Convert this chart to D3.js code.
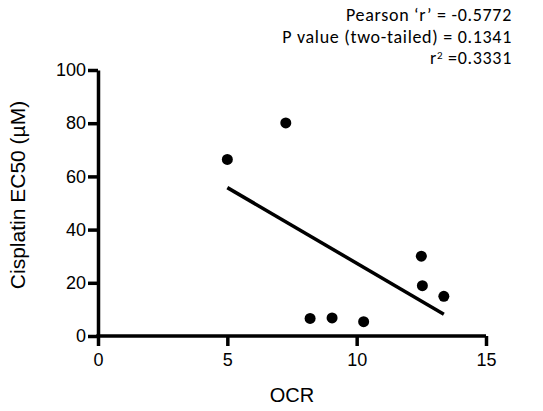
<!DOCTYPE html>
<html><head><meta charset="utf-8">
<script src="https://cdn.jsdelivr.net/npm/d3@7"></script>
<style>body{margin:0;background:#fff}</style>
</head><body>
<svg id="c" width="543" height="411"></svg>
<script>
const ocr   = [5.0, 7.26, 8.2, 9.05, 10.27, 12.5, 12.54, 13.37];
const ec50  = [66.4, 80.1, 6.6, 6.8, 5.4, 30.0, 18.9, 14.9];
const xTicks = [0, 5, 10, 15];
const yTicks = [0, 20, 40, 60, 80, 100];
const statsLines = ["Pearson \u2018r\u2019 = -0.5772", "P value (two-tailed) = 0.1341"];
const r2Value = "0.3331";

const svg = d3.select("#c");
const x = d3.scaleLinear().domain([0, 15]).range([98, 486]);
const y = d3.scaleLinear().domain([0, 100]).range([336, 70]);
const sw = 3.5;
const arial = "'Liberation Sans', Arial, Helvetica, sans-serif";

// regression line (least squares from the data)
const n = ocr.length;
const mx = d3.mean(ocr), my = d3.mean(ec50);
let sxy = 0, sxx = 0;
for (let i = 0; i < n; i++) { sxy += (ocr[i]-mx)*(ec50[i]-my); sxx += (ocr[i]-mx)**2; }
const slope = sxy / sxx, icpt = my - slope*mx;
const x0 = d3.min(ocr), x1 = d3.max(ocr);

const gx = svg.append("g").attr("transform", `translate(0,${y(0)})`)
  .call(d3.axisBottom(x).tickValues(xTicks).tickSize(10).tickSizeOuter(0).tickPadding(7));
const gy = svg.append("g").attr("transform", `translate(${x(0)},0)`)
  .call(d3.axisLeft(y).tickValues(yTicks).tickSize(10).tickSizeOuter(0).tickPadding(2));
[gx, gy].forEach(g => {
  g.attr("font-family", arial).attr("font-size", 18);
  g.selectAll("path,line").attr("stroke", "#000").attr("stroke-width", sw);
  g.selectAll("text").attr("fill", "#000").attr("font-family", arial).attr("font-size", 18);
});
gx.select(".domain").attr("d", `M${x(0)-sw/2},0H${x(15)}`);

svg.append("line")
  .attr("x1", x(x0)).attr("y1", y(icpt + slope*x0))
  .attr("x2", x(x1)).attr("y2", y(icpt + slope*x1))
  .attr("stroke", "#000").attr("stroke-width", 3.5);

svg.selectAll("circle.pt").data(ocr.map((v,i)=>[v, ec50[i]])).join("circle")
  .attr("class","pt").attr("cx", d=>x(d[0])).attr("cy", d=>y(d[1])).attr("r", 5.5).attr("fill", "#000");

svg.append("text").attr("x", 292).attr("y", 401.5).attr("text-anchor","middle")
  .attr("font-family", arial).attr("font-size", 20).text("OCR");
svg.append("text").attr("transform","translate(25,195) rotate(-90)").attr("text-anchor","middle")
  .attr("font-family", arial).attr("font-size", 21).text("Cisplatin EC50 (\u00b5M)");

const fam = "Carlito, Lato, 'Open Sans', sans-serif";
const base = [20.7, 42.7];
statsLines.forEach((t,i)=>{
  svg.append("text").attr("x", 512).attr("y", base[i]).attr("text-anchor","end")
    .attr("font-family", fam).attr("font-size", 18).attr("letter-spacing", 0.7).text(t);
});
const t3 = svg.append("text").attr("x", 512).attr("y", 64).attr("text-anchor","end")
  .attr("font-family", fam).attr("font-size", 18).attr("letter-spacing", 0.7);
t3.append("tspan").text("r");
t3.append("tspan").attr("dy", -5).attr("font-size", 11).text("2");
t3.append("tspan").attr("dy", 5).text(" =" + r2Value);
</script>
</body></html>
